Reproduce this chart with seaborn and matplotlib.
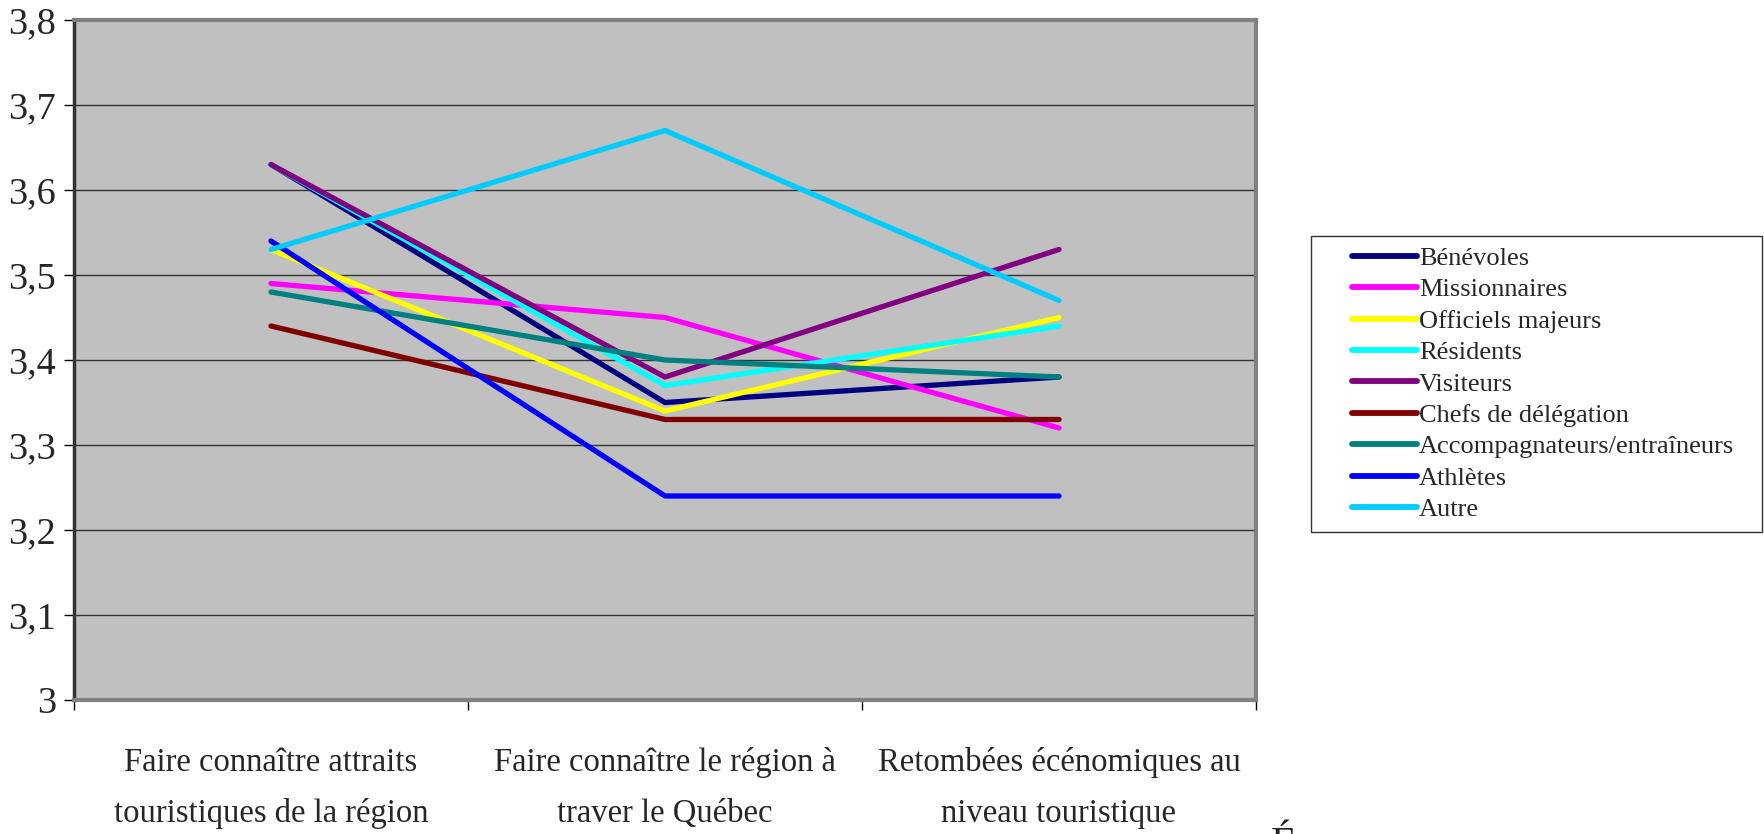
import pandas as pd
import numpy as np
import seaborn as sns
import matplotlib.pyplot as plt
from matplotlib.ticker import MultipleLocator, FixedLocator
from matplotlib.legend_handler import HandlerLine2D

categories = ["Faire connaître attraits\ntouristiques de la région",
              "Faire connaître le région à\ntraver le Québec",
              "Retombées écénomiques au\nniveau touristique"]

groups = ["Bénévoles", "Missionnaires", "Officiels majeurs", "Résidents", "Visiteurs",
          "Chefs de délégation", "Accompagnateurs/entraîneurs", "Athlètes", "Autre"]

benevoles = [3.63, 3.35, 3.38]
missionnaires = [3.49, 3.45, 3.32]
officiels = [3.53, 3.34, 3.45]
residents = [3.63, 3.37, 3.44]
visiteurs = [3.63, 3.38, 3.53]
chefs = [3.44, 3.33, 3.33]
accompagnateurs = [3.48, 3.40, 3.38]
athletes = [3.54, 3.24, 3.24]
autre = [3.53, 3.67, 3.47]

colors = ["#000080", "#FF00FF", "#FFFF00", "#00FFFF", "#800080",
          "#800000", "#008080", "#0000FF", "#00CCFF"]

series = [benevoles, missionnaires, officiels, residents, visiteurs,
          chefs, accompagnateurs, athletes, autre]

rows = []
for g, vals in zip(groups, series):
    for c, v in zip(categories, vals):
        rows.append({"cat": c, "groupe": g, "score": v})
df = pd.DataFrame(rows)


# legend line drawn on the right part of the handle box, leaving a gap on the left
class GapLine(HandlerLine2D):
    def create_artists(self, legend, orig_handle, xdescent, ydescent,
                       width, height, fontsize, trans):
        arts = super().create_artists(legend, orig_handle, xdescent, ydescent,
                                      width, height, fontsize, trans)
        for a in arts:
            n = len(a.get_xdata())
            if n >= 2:
                a.set_xdata(np.linspace(-xdescent + width * 0.32, -xdescent + width, n))
        return arts


sns.set_style("white")
plt.rcParams['font.family'] = ['Liberation Serif', 'DejaVu Serif']

fig = plt.figure(figsize=(17.65, 8.34), dpi=100)
ax = fig.add_axes([74/1765, 1-700/834, (1256-74)/1765, (700-20)/834])
ax.set_facecolor("#C0C0C0")

sns.lineplot(data=df, x="cat", y="score", hue="groupe", hue_order=groups,
             palette=colors, sort=False, lw=3.8, ax=ax, legend=True,
             solid_capstyle="round")

ax.set_xlim(-0.5, 2.5)
ax.set_ylim(3.0, 3.8)
ax.yaxis.set_major_locator(MultipleLocator(0.1))
ax.set_yticklabels([f"{v:.1f}".replace(".", ",").replace("3,0", "3")
                    for v in ax.get_yticks()])
ax.grid(axis="y", color="#333333", lw=1)
ax.set_axisbelow(True)
ax.set_xlabel("")
ax.set_ylabel("")

ax.xaxis.set_minor_locator(FixedLocator([-0.5, 0.5, 1.5, 2.5]))
ax.tick_params(axis="x", which="major", length=0, pad=34, labelsize=23.5)
ax.tick_params(axis="x", which="minor", length=7, width=1, direction="out", color="black")
ax.tick_params(axis="y", length=7, width=1, direction="out", color="black", labelsize=27.5, pad=6)
ax.tick_params(bottom=True, left=True, which="both")
for lbl in ax.get_xticklabels():
    lbl.set_linespacing(1.85)

for s in ["top", "right", "bottom"]:
    ax.spines[s].set_color("#808080")
    ax.spines[s].set_linewidth(3)
ax.spines["left"].set_color("#333333")
ax.spines["left"].set_linewidth(2.5)

handles, labels = ax.get_legend_handles_labels()
leg = ax.legend(handles, labels, loc="upper left",
                bbox_to_anchor=(1311/1765, 1-535/834, 451/1765, 299/834),
                mode="expand", bbox_transform=fig.transFigure, frameon=True,
                fancybox=False, fontsize=19, handlelength=3.6, handletextpad=0.1,
                labelspacing=0.3, borderpad=0.4, borderaxespad=0,
                handler_map={h: GapLine() for h in handles})
leg.get_frame().set_edgecolor("black")
leg.get_frame().set_linewidth(1)
for h in leg.get_lines():
    h.set_linewidth(4.2)
    h.set_solid_capstyle("round")

# bit of a cut-off title at the bottom edge
fig.text(1283/1765, 1-826/834, "É", ha="center", va="top", fontsize=30)

fig.savefig("out.png", dpi=100)
